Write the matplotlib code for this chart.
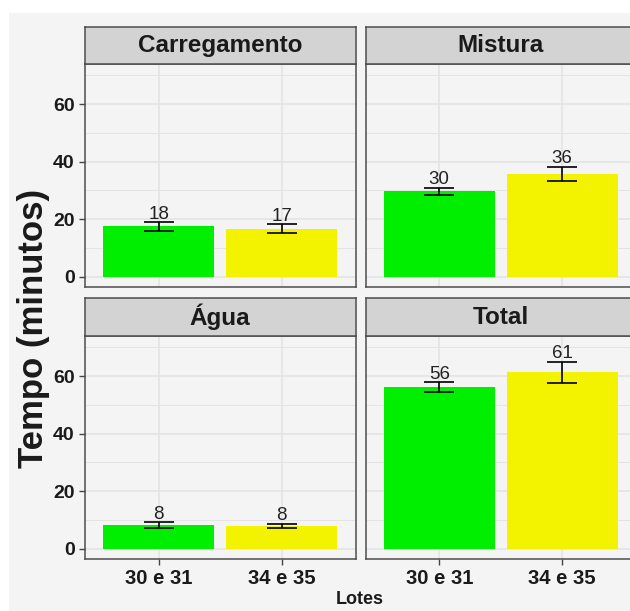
import matplotlib
matplotlib.use("Agg")
import matplotlib.pyplot as plt
from matplotlib.patches import Rectangle

plt.rcParams['font.family'] = ['Liberation Sans', 'DejaVu Sans']

# ---- data ----
categories = ["30 e 31", "34 e 35"]
panels = ["Carregamento", "Mistura", "Água", "Total"]
means = {
    "Carregamento": [17.5, 16.8],
    "Mistura": [29.8, 35.8],
    "Água": [8.3, 8.1],
    "Total": [56.1, 61.3],
}
errors = {
    "Carregamento": [1.4, 1.5],
    "Mistura": [1.2, 2.4],
    "Água": [1.0, 0.7],
    "Total": [1.8, 3.6],
}
labels = {
    "Carregamento": ["18", "17"],
    "Mistura": ["30", "36"],
    "Água": ["8", "8"],
    "Total": ["56", "61"],
}
bar_colors = ["#00ee00", "#f3f300"]
y_ticks = [0, 20, 40, 60]
y_minor = [10, 30, 50, 70]

W, H = 630, 611
fig = plt.figure(figsize=(W / 100, H / 100), dpi=100)
fig.patch.set_facecolor("white")
BG = "#f4f4f4"
fig.add_artist(Rectangle((9 / W, 0), 1, 1 - 13 / H, transform=fig.transFigure,
                         facecolor=BG, edgecolor="none", zorder=-10))

def fx(px):
    return px / W

def fy(py):
    return 1 - py / H

cols = [(85, 355.5), (365.5, 636)]
rows = [(27, 64, 287), (298, 336, 559)]  # strip top, panel top, panel bottom
border = "#4d4d4d"
grid_c = "#e2e2e2"

for i, name in enumerate(panels):
    r, c = divmod(i, 2)
    x0, x1 = cols[c]
    st, pt, pb = rows[r]
    ax = fig.add_axes([fx(x0), fy(pb), fx(x1 - x0), (pb - pt) / H])
    ax.set_facecolor("none")
    xs = [1, 2]
    ax.bar(xs, means[name], width=0.9, color=bar_colors, zorder=2)
    ax.errorbar(xs, means[name], yerr=errors[name], fmt="none", ecolor="black",
                elinewidth=1.2, capsize=11, capthick=1.2, zorder=3)
    for xv, m, e, lab in zip(xs, means[name], errors[name], labels[name]):
        ax.text(xv, m + e + 1.2, lab, ha="center", va="baseline",
                fontsize=13.5, color="#222222", zorder=4)
    ax.set_xlim(0.4, 2.6)
    ax.set_ylim(-3.5, 73.9)
    ax.set_yticks(y_ticks)
    ax.set_yticks(y_minor, minor=True)
    ax.set_xticks(xs)
    ax.grid(True, which="major", color=grid_c, linewidth=1.1, zorder=0)
    ax.grid(True, which="minor", axis="y", color=grid_c, linewidth=0.6, zorder=0)
    ax.set_axisbelow(True)
    for sp in ax.spines.values():
        sp.set_color(border)
        sp.set_linewidth(1.1)
    ax.tick_params(axis="both", which="major", length=4, width=1, color="#444444",
                   labelsize=14, labelcolor="#1a1a1a")
    ax.tick_params(axis="x", which="major", labelsize=14.6)
    ax.tick_params(axis="both", which="minor", length=0)
    if c == 0:
        ax.set_yticklabels([str(t) for t in y_ticks], fontweight="bold")
    else:
        ax.tick_params(axis="y", labelleft=False, length=0)
    if r == 1:
        ax.set_xticklabels(categories, fontweight="bold")
    else:
        ax.tick_params(axis="x", labelbottom=False, length=0)

    # strip
    sax = fig.add_axes([fx(x0), fy(pt), fx(x1 - x0), (pt - st) / H])
    sax.set_facecolor("#d3d3d3")
    sax.set_xticks([])
    sax.set_yticks([])
    for sp in sax.spines.values():
        sp.set_color(border)
        sp.set_linewidth(1.1)
    sax.text(0.5, 0.5, name, transform=sax.transAxes, ha="center", va="center",
             fontsize=17.5, fontweight="bold", color="#1a1a1a")

fig.text(fx(360), fy(600), "Lotes", ha="center", va="center",
         fontsize=13, fontweight="bold", color="#1a1a1a")
fig.text(fx(34), fy(328), "Tempo (minutos)", ha="center", va="center",
         rotation=90, fontsize=25, fontweight="bold", color="#1a1a1a")

fig.savefig("out.png", dpi=100)
